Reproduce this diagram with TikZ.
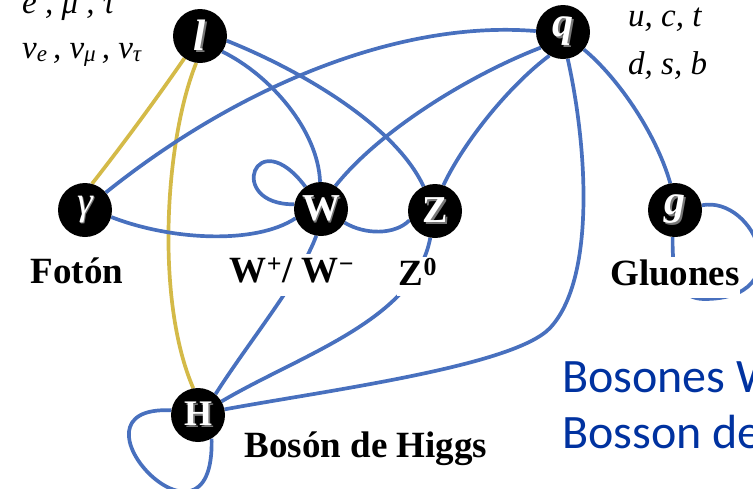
\documentclass[tikz,border=0pt]{standalone}
\usepackage{fontspec}
\setmainfont{Liberation Serif}
\newfontfamily\carlitofont{Carlito}
\usetikzlibrary{backgrounds}
\definecolor{lineblue}{RGB}{72,112,190}
\definecolor{linegold}{RGB}{212,186,72}
\definecolor{txtblue}{RGB}{0,50,160}
\definecolor{embgray}{RGB}{120,120,120}
\newcommand\emb[1]{\rlap{\kern1.8pt\raisebox{-1.8pt}{\textcolor{embgray}{#1}}}\textcolor{white}{#1}}
\tikzset{
  part/.style={circle, fill=black, minimum size=54pt, inner sep=0pt},
  bl/.style={draw=lineblue, line width=3.7pt},
  gl/.style={draw=linegold, line width=3.7pt},
  lbl/.style={fill=white, inner xsep=0pt, inner ysep=1pt, anchor=base, font=\fontsize{37}{40}\selectfont\bfseries},
  ital/.style={anchor=base west, inner sep=0pt, font=\fontsize{33}{38}\selectfont\itshape},
  bigblue/.style={anchor=base west, inner sep=0pt, text=txtblue, font=\fontsize{48}{56}\selectfont\carlitofont},
}
\begin{document}
\begin{tikzpicture}[x=1pt,y=-1pt]
\useasboundingbox (0,0) rectangle (753,488);
\clip (0,0) rectangle (753,488);
% particles
\node[part, font=\fontsize{44}{44}\selectfont\bfseries\itshape] (l) at (200,36) {\emb{l}};
\node[part, font=\fontsize{42}{42}\selectfont\bfseries\itshape] (q) at (563,32) {\raisebox{4pt}{\emb{q}}};
\node[part, font=\fontsize{40}{40}\selectfont\itshape] (gam) at (85,210) {\raisebox{3pt}{\emb{γ}}};
\node[part, font=\fontsize{38}{38}\selectfont\bfseries] (W) at (321,209) {\emb{W}};
\node[part, font=\fontsize{38}{38}\selectfont\bfseries] (Z) at (435,211) {\emb{Z}};
\node[part, font=\fontsize{42}{42}\selectfont\bfseries\itshape] (g) at (675,210) {\raisebox{4pt}{\emb{g}}};
\node[part, font=\fontsize{36}{36}\selectfont\bfseries] (H) at (198,415) {\emb{H}};
% connectors
\begin{scope}[on background layer]
\draw[gl] (l.235) .. controls (157,98) and (124,143) .. (gam.75);
\draw[gl] (l.262) .. controls (165,140) and (155,300) .. (H.100);
\draw[bl] (l.-35) .. controls (270,75) and (318,130) .. (W.92);
\draw[bl] (l.-10) .. controls (300,70) and (395,125) .. (Z.115);
\draw[bl] (q.178) .. controls (400,20) and (240,85) .. (gam.40);
\draw[bl] (q.-145) .. controls (470,75) and (380,130) .. (W.58);
\draw[bl] (q.-120) .. controls (510,85) and (465,140) .. (Z.72);
\draw[bl] (q.-80) .. controls (588,150) and (595,280) .. (550,328) .. controls (514,366) and (330,390) .. (H.12);
\draw[bl] (q.-40) .. controls (615,75) and (655,130) .. (g.100);
\draw[bl] (g.10) .. controls (755,195) and (800,300) .. (703,299) .. controls (680,298) and (672,280) .. (g.-95);
\draw[bl] (W.170) .. controls (225,205) and (255,120) .. (W.125);
\draw[bl] (gam.-15) .. controls (170,240) and (255,245) .. (W.200);
\draw[bl] (W.-30) .. controls (365,235) and (395,235) .. (Z.200);
\draw[bl] (W.-100) .. controls (300,280) and (250,340) .. (H.50);
\draw[bl] (Z.-100) .. controls (415,320) and (300,355) .. (H.30);
\draw[bl] (H.170) .. controls (55,405) and (215,575) .. (H.-60);
\end{scope}
% labels
\node[lbl] (lfoton) at (77,283) {Fotón};
\node[lbl, inner xsep=2pt, text height=27pt, text depth=13pt] (lw) at (292,282) {W\textsuperscript{+}/ W\textsuperscript{−}};
\node[lbl, inner xsep=2pt, text height=27pt, text depth=10pt] (lz) at (418,285) {Z\textsuperscript{0}};
\node[lbl, text height=27pt, text depth=12pt] (lg) at (675,285) {Gluones};
\node[lbl] (lh) at (366,457) {Bosón de Higgs};
\node[ital] (leptons1) at (22,13) {e , μ , τ};
\node[ital] (leptons2) at (22,58) {ν\textsubscript{e}\,, ν\textsubscript{μ}\,, ν\textsubscript{τ}};
\node[ital] (quarks1) at (628,26) {u, c, t};
\node[ital] (quarks2) at (628,74) {d, s, b};
\node[bigblue] (note1) at (562,392) {Bosones W};
\node[bigblue] (note2) at (562,448) {Bosson de};
\end{tikzpicture}
\end{document}
